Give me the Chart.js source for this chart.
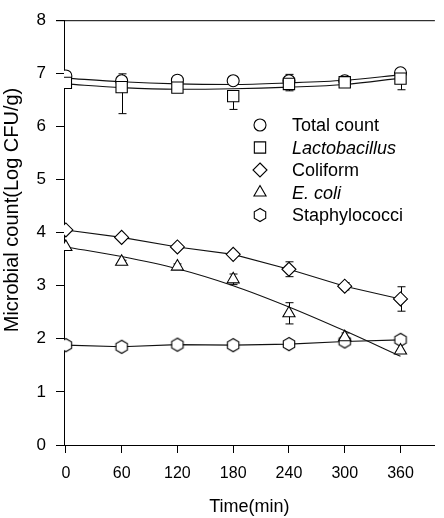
<!DOCTYPE html>
<html><head><meta charset="utf-8">
<script src="https://cdn.jsdelivr.net/npm/chart.js@4.4.0/dist/chart.umd.min.js"></script>
<style>html,body{margin:0;padding:0;background:#fff;}#wrap{width:444px;height:518px;}</style>
</head><body><div id="wrap"><canvas id="c" width="444" height="518"></canvas></div>
<script>
// ---- data ----
const times = [0, 60, 120, 180, 240, 300, 360];
const xTicks = [0, 60, 120, 180, 240, 300, 360];
const yTicks = [0, 1, 2, 3, 4, 5, 6, 7, 8];
const seriesNames = ['Total count', 'Lactobacillus', 'Coliform', 'E. coli', 'Staphylococci'];
const totalCount    = [6.95, 6.86, 6.87, 6.86, 6.86, 6.86, 7.01];
const lactobacillus = [6.82, 6.74, 6.73, 6.57, 6.80, 6.83, 6.90];
const coliform      = [4.05, 3.91, 3.73, 3.59, 3.31, 2.99, 2.75];
const eColi         = [3.73, 3.45, 3.36, 3.12, 2.48, 2.03, 1.78];
const staphylococci = [1.88, 1.85, 1.89, 1.88, 1.90, 1.95, 1.98];
// fitted / connecting lines
const totalFit  = [6.91, 6.84, 6.80, 6.79, 6.82, 6.87, 6.97];
const lactoFit  = [6.80, 6.73, 6.70, 6.71, 6.74, 6.79, 6.91];
const eColiFit  = [3.73, 3.55, 3.32, 3.00, 2.60, 2.15, 1.67];
// error bars (up / down)
const totalErrUp   = [0, 0.13, 0, 0, 0.12, 0, 0];
const totalErrDown = [0, 0, 0, 0, 0, 0, 0];
const lactoErrUp   = [0, 0, 0, 0, 0, 0, 0];
const lactoErrDown = [0, 0.50, 0, 0.25, 0.13, 0, 0.21];
const coliErr      = [0, 0, 0, 0, 0.14, 0.07, 0.23];
const eColiErrUp   = [0, 0.03, 0.05, 0.10, 0.20, 0.08, 0];
const eColiErrDown = [0, 0.03, 0.05, 0.10, 0.20, 0, 0];
const staphErr     = [0, 0, 0, 0, 0, 0, 0];

const FONT = "'Liberation Sans', Arial, sans-serif";
const pts = arr => times.map((t, i) => ({x: t, y: arr[i]}));

// hexagon marker
const hex = document.createElement('canvas');
hex.width = 16; hex.height = 16;
(function(){
  const c = hex.getContext('2d');
  c.beginPath();
  for (let k = 0; k < 6; k++) {
    const a = Math.PI / 2 + k * Math.PI / 3;
    const px = 8 + 6.6 * Math.cos(a), py = 8 - 6.6 * Math.sin(a);
    k ? c.lineTo(px, py) : c.moveTo(px, py);
  }
  c.closePath();
  c.fillStyle = '#fff'; c.fill();
  c.strokeStyle = '#000'; c.lineWidth = 1.1; c.stroke();
})();

const markerStyles = [
  {style: 'circle', r: 6},
  {style: 'rect', r: 8},
  {style: 'rectRot', r: 7},
  {style: 'triangle', r: 7},
  {style: hex, r: 7}
];
const seriesValues = [totalCount, lactobacillus, coliform, eColi, staphylococci];
const errUps = [totalErrUp, lactoErrUp, coliErr, eColiErrUp, staphErr];
const errDowns = [totalErrDown, lactoErrDown, coliErr, eColiErrDown, staphErr];

function markerDs(i, order) {
  return {
    label: seriesNames[i], data: pts(seriesValues[i]), showLine: false,
    pointStyle: markerStyles[i].style, pointRadius: markerStyles[i].r,
    pointBackgroundColor: '#fff', pointBorderColor: '#000', pointBorderWidth: 1.1,
    order: order
  };
}
function lineDs(arr, tension) {
  return {
    label: '', data: pts(arr), showLine: true, pointRadius: 0,
    borderColor: '#111', borderWidth: 1.1, tension: tension,
    cubicInterpolationMode: tension ? 'monotone' : 'default', fill: false, order: 20
  };
}

const datasets = [
  markerDs(1, 0), markerDs(0, 1), markerDs(2, 2), markerDs(3, 3), markerDs(4, 4),
  lineDs(totalFit, 0.4), lineDs(lactoFit, 0.4), lineDs(coliform, 0),
  lineDs(eColiFit, 0.4), lineDs(staphylococci, 0)
];

const errorBars = {
  id: 'errorBars',
  beforeDatasetsDraw(chart) {
    const {ctx, scales: {x, y}} = chart;
    ctx.save();
    ctx.strokeStyle = '#000'; ctx.lineWidth = 1;
    seriesValues.forEach((vals, s) => {
      vals.forEach((v, i) => {
        const up = errUps[s][i], dn = errDowns[s][i];
        if (!up && !dn) return;
        const px = Math.round(x.getPixelForValue(times[i])) + 0.5;
        const yt = y.getPixelForValue(v + up), yb = y.getPixelForValue(v - dn);
        ctx.beginPath(); ctx.moveTo(px, yt); ctx.lineTo(px, yb); ctx.stroke();
        if (up) { ctx.beginPath(); ctx.moveTo(px - 4, yt); ctx.lineTo(px + 4, yt); ctx.stroke(); }
        if (dn) { ctx.beginPath(); ctx.moveTo(px - 4, yb); ctx.lineTo(px + 4, yb); ctx.stroke(); }
      });
    });
    ctx.restore();
  }
};

function drawMarker(ctx, i, cx, cy) {
  const m = markerStyles[i];
  ctx.save();
  ctx.fillStyle = '#fff'; ctx.strokeStyle = '#000'; ctx.lineWidth = 1.1;
  ctx.beginPath();
  if (m.style === 'circle') {
    ctx.arc(cx, cy, m.r, 0, Math.PI * 2);
  } else if (m.style === 'rect') {
    const h = m.r * Math.SQRT1_2; ctx.rect(cx - h, cy - h, 2 * h, 2 * h);
  } else if (m.style === 'rectRot') {
    ctx.moveTo(cx, cy - m.r); ctx.lineTo(cx + m.r, cy); ctx.lineTo(cx, cy + m.r); ctx.lineTo(cx - m.r, cy); ctx.closePath();
  } else if (m.style === 'triangle') {
    for (let k = 0; k < 3; k++) {
      const a = k * 2 * Math.PI / 3;
      const px = cx + Math.sin(a) * m.r, py = cy - Math.cos(a) * m.r;
      k ? ctx.lineTo(px, py) : ctx.moveTo(px, py);
    }
    ctx.closePath();
  } else {
    ctx.restore();
    ctx.drawImage(hex, cx - 8, cy - 8);
    return;
  }
  ctx.fill(); ctx.stroke();
  ctx.restore();
}

const decor = {
  id: 'decor',
  afterDraw(chart) {
    const {ctx, chartArea: a} = chart;
    ctx.save();
    // top frame line
    ctx.strokeStyle = '#000'; ctx.lineWidth = 1;
    ctx.beginPath(); ctx.moveTo(a.left - 8, a.top + 0.5); ctx.lineTo(a.right, a.top + 0.5); ctx.stroke();
    // legend
    const rowY = [125, 147.5, 170, 192.5, 215];
    const italic = [false, true, false, true, false];
    ctx.fillStyle = '#000'; ctx.textBaseline = 'middle'; ctx.textAlign = 'left';
    seriesNames.forEach((n, i) => {
      drawMarker(ctx, i, 260, rowY[i]);
      ctx.font = (italic[i] ? 'italic ' : '') + '18px ' + FONT;
      ctx.fillText(n, 292, rowY[i] + 1);
    });
    // y axis title
    ctx.translate(12, 210);
    ctx.rotate(-Math.PI / 2);
    ctx.textAlign = 'center';
    ctx.font = '20px ' + FONT;
    ctx.fillText('Microbial count(Log CFU/g)', 0, 0);
    ctx.restore();
  }
};

new Chart(document.getElementById('c'), {
  type: 'line',
  data: {datasets},
  plugins: [errorBars, decor],
  options: {
    responsive: false, animation: false, devicePixelRatio: 1,
    layout: {padding: {top: 12, right: 0, bottom: 0, left: 0}},
    plugins: {legend: {display: false}, tooltip: {enabled: false}},
    scales: {
      x: {
        type: 'linear', min: -2, max: 397,
        afterBuildTicks: s => { s.ticks = xTicks.map(v => ({value: v})); },
        afterFit: s => { s.height = 73; },
        grid: {display: true, drawOnChartArea: false, drawTicks: true, tickLength: 8, color: '#000', lineWidth: 1},
        border: {display: true, color: '#000', width: 1},
        ticks: {color: '#000', font: {family: FONT, size: 16}, padding: 11, maxRotation: 0, autoSkip: false},
        title: {display: true, text: 'Time(min)', color: '#000', font: {family: FONT, size: 18}, padding: {top: 0, bottom: 0}}
      },
      y: {
        type: 'linear', min: 0, max: 8,
        afterBuildTicks: s => { s.ticks = yTicks.map(v => ({value: v})); },
        afterFit: s => { s.width = 64; },
        grid: {display: true, drawOnChartArea: false, drawTicks: true, tickLength: 8, color: '#000', lineWidth: 1},
        border: {display: true, color: '#000', width: 1},
        ticks: {color: '#000', font: {family: FONT, size: 17}, padding: 10}
      }
    }
  }
});
</script>
</body></html>
